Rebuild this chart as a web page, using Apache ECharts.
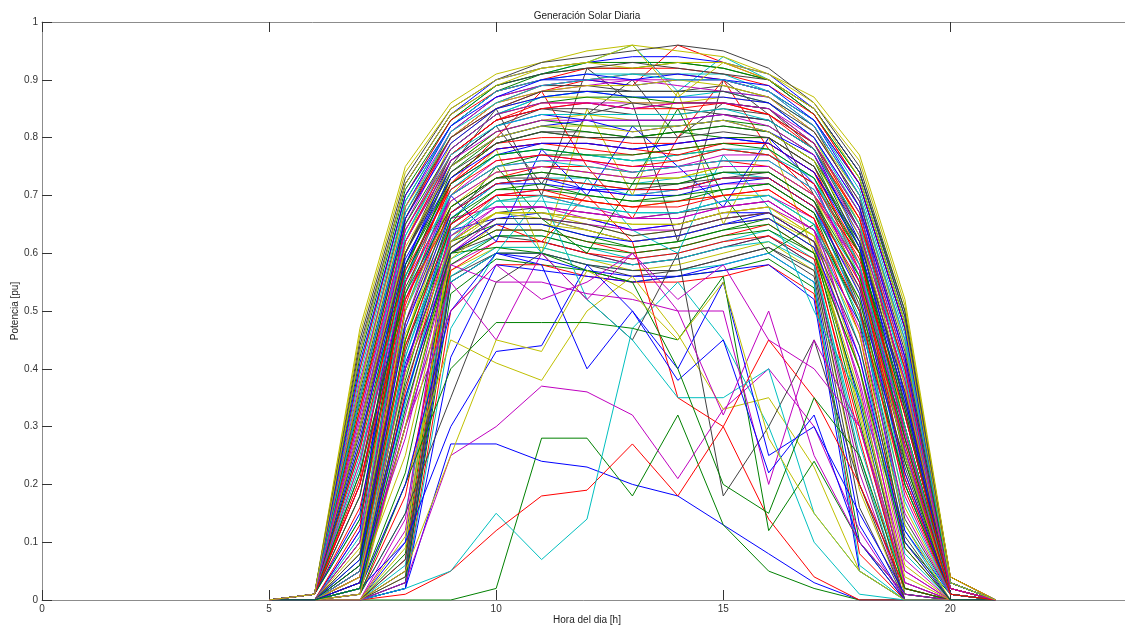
<!DOCTYPE html>
<html>
<head>
<meta charset="utf-8">
<title>Generación Solar Diaria</title>
<script src="https://cdn.jsdelivr.net/npm/echarts@6/dist/echarts.min.js"></script>
<style>
  html, body { margin: 0; padding: 0; background: #fff; }
  #chart { width: 1125px; height: 628px; }
</style>
</head>
<body>
<div id="chart"></div>
<script>
// horas del dia con valores (fuera de este rango la potencia es 0)
var hours = [5, 6, 7, 8, 9, 10, 11, 12, 13, 14, 15, 16, 17, 18, 19, 20, 21];

// dias largos (verano), arrancan a las 6
var diasLargos = [
  [0,0.01,0.47,0.75,0.86,0.91,0.93,0.95,0.96,0.95,0.94,0.91,0.87,0.77,0.52,0.04,0],
  [0,0.01,0.45,0.73,0.85,0.90,0.93,0.94,0.95,0.96,0.95,0.92,0.86,0.75,0.50,0.04,0],
  [0,0.01,0.43,0.72,0.84,0.90,0.92,0.93,0.94,0.94,0.93,0.91,0.85,0.74,0.49,0.03,0],
  [0,0.01,0.42,0.71,0.83,0.89,0.91,0.93,0.93,0.93,0.92,0.90,0.84,0.73,0.48,0.03,0],
  [0,0.01,0.40,0.70,0.83,0.88,0.90,0.92,0.92,0.92,0.91,0.89,0.84,0.72,0.47,0.04,0],
  [0,0.01,0.39,0.69,0.82,0.88,0.90,0.91,0.91,0.91,0.91,0.88,0.83,0.71,0.46,0.03,0],
  [0,0.01,0.38,0.68,0.81,0.87,0.89,0.90,0.90,0.90,0.90,0.88,0.82,0.70,0.45,0.03,0],
  [0,0.01,0.37,0.68,0.80,0.86,0.88,0.89,0.89,0.90,0.89,0.87,0.81,0.70,0.44,0.02,0],
  [0,0.01,0.36,0.67,0.80,0.85,0.88,0.88,0.88,0.88,0.88,0.86,0.81,0.69,0.43,0.03,0],
  [0,0.01,0.35,0.66,0.79,0.85,0.87,0.88,0.87,0.87,0.87,0.86,0.80,0.68,0.42,0.02,0],
  [0,0.01,0.34,0.65,0.78,0.84,0.86,0.87,0.87,0.86,0.86,0.85,0.79,0.67,0.41,0.03,0],
  [0,0.01,0.33,0.64,0.77,0.83,0.85,0.86,0.85,0.85,0.86,0.84,0.78,0.66,0.40,0.02,0],
  [0,0.01,0.32,0.63,0.77,0.82,0.84,0.84,0.84,0.84,0.85,0.83,0.78,0.65,0.39,0.02,0],
  [0,0.01,0.31,0.62,0.76,0.81,0.83,0.83,0.83,0.83,0.84,0.82,0.77,0.64,0.38,0.02,0],
  [0,0.01,0.30,0.61,0.75,0.80,0.82,0.82,0.81,0.82,0.83,0.81,0.76,0.63,0.37,0.02,0],
  [0,0.01,0.29,0.60,0.74,0.79,0.81,0.80,0.80,0.80,0.81,0.80,0.75,0.62,0.36,0.02,0],
  [0,0.01,0.28,0.59,0.73,0.78,0.79,0.79,0.78,0.79,0.80,0.79,0.74,0.61,0.35,0.01,0],
  [0,0.01,0.27,0.58,0.72,0.77,0.78,0.77,0.77,0.78,0.79,0.78,0.73,0.60,0.33,0.01,0],
  [0,0.01,0.26,0.57,0.71,0.76,0.77,0.76,0.75,0.76,0.78,0.77,0.72,0.59,0.32,0.02,0],
  [0,0.01,0.25,0.56,0.70,0.75,0.76,0.75,0.74,0.75,0.76,0.76,0.71,0.58,0.30,0.01,0],
  [0,0.01,0.24,0.55,0.69,0.74,0.75,0.74,0.73,0.74,0.75,0.75,0.70,0.57,0.29,0.01,0],
  [0,0.01,0.46,0.74,0.85,0.90,0.92,0.93,0.92,0.93,0.93,0.91,0.86,0.76,0.51,0.04,0],
  [0,0.01,0.44,0.72,0.84,0.89,0.91,0.92,0.93,0.92,0.91,0.90,0.85,0.74,0.49,0.03,0],
  [0,0.01,0.41,0.70,0.82,0.87,0.90,0.91,0.90,0.91,0.90,0.89,0.83,0.72,0.47,0.03,0],
  [0,0.01,0.22,0.53,0.68,0.73,0.74,0.73,0.72,0.72,0.74,0.74,0.69,0.56,0.28,0.01,0],
  [0,0.01,0.20,0.52,0.67,0.72,0.73,0.72,0.71,0.71,0.73,0.73,0.68,0.55,0.27,0.01,0],
  [0,0.01,0.35,0.67,0.81,0.86,0.89,0.90,0.91,0.90,0.90,0.88,0.82,0.70,0.45,0.03,0],
  [0,0.01,0.32,0.64,0.78,0.84,0.86,0.86,0.85,0.86,0.86,0.85,0.79,0.67,0.41,0.02,0],
  [0,0.01,0.43,0.72,0.84,0.89,0.92,0.93,0.96,0.87,0.93,0.90,0.85,0.73,0.48,0.03,0]
];

// dias de primavera
var diasPrimavera = [
  [0,0.01,0.18,0.60,0.76,0.82,0.85,0.84,0.86,0.85,0.84,0.83,0.78,0.64,0.34,0.02,0],
  [0,0.01,0.15,0.58,0.75,0.80,0.82,0.83,0.81,0.82,0.83,0.81,0.77,0.63,0.32,0.02,0],
  [0,0.01,0.14,0.56,0.73,0.79,0.81,0.80,0.80,0.81,0.80,0.80,0.75,0.61,0.30,0.02,0],
  [0,0,0.13,0.55,0.72,0.78,0.79,0.79,0.78,0.77,0.79,0.79,0.74,0.60,0.29,0.02,0],
  [0,0,0.11,0.53,0.71,0.77,0.78,0.77,0.76,0.76,0.78,0.77,0.73,0.58,0.27,0.01,0],
  [0,0,0.10,0.52,0.70,0.75,0.76,0.76,0.74,0.75,0.76,0.76,0.71,0.57,0.26,0.01,0],
  [0,0,0.09,0.50,0.69,0.74,0.75,0.74,0.73,0.73,0.75,0.75,0.70,0.56,0.25,0.01,0],
  [0,0,0.08,0.48,0.68,0.73,0.74,0.73,0.72,0.72,0.74,0.74,0.69,0.54,0.23,0.01,0],
  [0,0,0.07,0.47,0.67,0.72,0.73,0.71,0.71,0.71,0.73,0.73,0.68,0.53,0.22,0.01,0],
  [0,0,0.06,0.45,0.66,0.71,0.72,0.70,0.69,0.70,0.71,0.72,0.67,0.52,0.20,0.01,0],
  [0,0,0.05,0.44,0.65,0.70,0.71,0.69,0.68,0.69,0.70,0.71,0.66,0.50,0.19,0.01,0],
  [0,0,0.05,0.42,0.64,0.69,0.70,0.68,0.67,0.67,0.69,0.70,0.65,0.49,0.17,0.01,0],
  [0,0,0.04,0.40,0.63,0.68,0.68,0.67,0.66,0.66,0.68,0.69,0.64,0.47,0.15,0.01,0],
  [0,0,0.04,0.39,0.62,0.67,0.67,0.66,0.65,0.65,0.67,0.68,0.63,0.46,0.13,0,0],
  [0,0,0.03,0.37,0.61,0.66,0.66,0.65,0.63,0.64,0.66,0.67,0.62,0.44,0.11,0,0],
  [0,0,0.03,0.35,0.60,0.65,0.65,0.63,0.62,0.63,0.65,0.66,0.61,0.42,0.10,0,0],
  [0,0,0.02,0.33,0.60,0.64,0.64,0.62,0.61,0.62,0.64,0.65,0.60,0.40,0.09,0,0],
  [0,0.01,0.21,0.62,0.77,0.83,0.86,0.86,0.85,0.86,0.86,0.84,0.79,0.66,0.37,0.02,0],
  [0,0.01,0.23,0.63,0.78,0.84,0.87,0.88,0.87,0.87,0.88,0.86,0.80,0.67,0.39,0.03,0],
  [0,0.01,0.26,0.65,0.80,0.86,0.88,0.89,0.90,0.89,0.88,0.87,0.81,0.69,0.42,0.03,0]
];

// dias medios, arrancan a las 7
var diasMedios = [
  [0,0,0.08,0.62,0.79,0.85,0.87,0.87,0.86,0.86,0.87,0.86,0.80,0.65,0.30,0.02,0],
  [0,0,0.06,0.60,0.77,0.83,0.85,0.85,0.84,0.84,0.85,0.84,0.79,0.64,0.28,0.02,0],
  [0,0,0.05,0.58,0.76,0.82,0.84,0.83,0.83,0.83,0.84,0.83,0.78,0.62,0.26,0.01,0],
  [0,0,0.04,0.55,0.74,0.80,0.82,0.81,0.80,0.81,0.82,0.81,0.76,0.60,0.24,0.01,0],
  [0,0,0.04,0.53,0.73,0.79,0.80,0.80,0.79,0.79,0.80,0.80,0.75,0.58,0.22,0.01,0],
  [0,0,0.03,0.50,0.71,0.77,0.78,0.77,0.76,0.77,0.78,0.78,0.73,0.56,0.20,0.01,0],
  [0,0,0.03,0.48,0.70,0.76,0.77,0.76,0.75,0.75,0.77,0.77,0.72,0.55,0.18,0.01,0],
  [0,0,0.02,0.45,0.68,0.74,0.75,0.74,0.73,0.73,0.75,0.75,0.70,0.53,0.16,0.01,0],
  [0,0,0.02,0.43,0.67,0.73,0.73,0.72,0.71,0.72,0.73,0.74,0.69,0.51,0.14,0.01,0],
  [0,0,0.02,0.40,0.66,0.72,0.72,0.71,0.70,0.70,0.72,0.73,0.68,0.50,0.12,0.01,0],
  [0,0,0.01,0.38,0.65,0.71,0.71,0.70,0.69,0.69,0.71,0.72,0.67,0.48,0.10,0.01,0],
  [0,0,0.01,0.36,0.64,0.70,0.70,0.69,0.68,0.68,0.70,0.71,0.66,0.46,0.09,0,0],
  [0,0,0.01,0.34,0.63,0.69,0.69,0.68,0.67,0.67,0.69,0.70,0.65,0.44,0.08,0,0],
  [0,0,0.01,0.32,0.62,0.68,0.68,0.67,0.66,0.66,0.68,0.69,0.64,0.42,0.07,0,0],
  [0,0,0.01,0.30,0.61,0.67,0.67,0.66,0.65,0.65,0.67,0.68,0.63,0.40,0.06,0,0],
  [0,0,0.10,0.66,0.81,0.87,0.89,0.89,0.88,0.88,0.89,0.87,0.82,0.68,0.33,0.02,0],
  [0,0,0.12,0.68,0.82,0.88,0.90,0.90,0.89,0.90,0.90,0.88,0.83,0.70,0.35,0.03,0],
  [0,0,0.07,0.57,0.75,0.81,0.83,0.82,0.82,0.82,0.83,0.82,0.77,0.61,0.25,0.01,0],
  [0,0,0.03,0.51,0.72,0.78,0.79,0.78,0.77,0.78,0.79,0.79,0.74,0.57,0.21,0.01,0],
  [0,0,0.02,0.42,0.66,0.72,0.73,0.72,0.70,0.71,0.73,0.73,0.68,0.50,0.13,0.01,0],
  [0,0,0.05,0.28,0.60,0.66,0.66,0.65,0.64,0.64,0.66,0.67,0.62,0.38,0.05,0,0],
  [0,0,0.04,0.25,0.59,0.65,0.65,0.64,0.62,0.63,0.65,0.66,0.61,0.36,0.04,0,0]
];

// dias de otoño
var diasOtono = [
  [0,0.01,0.37,0.69,0.82,0.88,0.91,0.92,0.92,0.93,0.92,0.90,0.85,0.74,0.50,0.04,0],
  [0,0.01,0.33,0.66,0.80,0.86,0.89,0.90,0.91,0.91,0.90,0.88,0.83,0.72,0.47,0.03,0],
  [0,0.01,0.30,0.64,0.78,0.84,0.87,0.88,0.88,0.88,0.88,0.87,0.82,0.70,0.44,0.03,0],
  [0,0.01,0.27,0.62,0.77,0.83,0.85,0.86,0.86,0.86,0.86,0.85,0.80,0.68,0.42,0.03,0],
  [0,0.01,0.24,0.60,0.75,0.81,0.83,0.84,0.83,0.83,0.84,0.83,0.78,0.66,0.40,0.02,0],
  [0,0.01,0.22,0.58,0.73,0.79,0.81,0.81,0.80,0.81,0.82,0.81,0.76,0.64,0.38,0.02,0],
  [0,0.01,0.20,0.56,0.72,0.77,0.79,0.79,0.78,0.79,0.80,0.79,0.74,0.62,0.36,0.02,0],
  [0,0.01,0.18,0.54,0.70,0.75,0.77,0.77,0.76,0.77,0.78,0.77,0.72,0.60,0.34,0.02,0],
  [0,0.01,0.16,0.52,0.68,0.73,0.75,0.75,0.74,0.75,0.76,0.75,0.70,0.58,0.32,0.02,0],
  [0,0.01,0.14,0.50,0.67,0.72,0.73,0.73,0.72,0.73,0.74,0.73,0.68,0.56,0.30,0.01,0],
  [0,0,0.12,0.48,0.65,0.70,0.71,0.71,0.70,0.71,0.72,0.72,0.67,0.54,0.28,0.01,0],
  [0,0,0.10,0.46,0.64,0.69,0.70,0.69,0.68,0.69,0.70,0.70,0.65,0.52,0.26,0.01,0],
  [0,0,0.08,0.44,0.62,0.67,0.68,0.67,0.66,0.67,0.68,0.69,0.64,0.50,0.24,0.01,0],
  [0,0,0.06,0.41,0.61,0.66,0.67,0.66,0.64,0.65,0.67,0.67,0.62,0.48,0.21,0.01,0],
  [0,0,0.02,0.22,0.58,0.63,0.63,0.61,0.60,0.61,0.63,0.64,0.60,0.35,0.03,0,0],
  [0,0,0.01,0.18,0.57,0.62,0.62,0.60,0.59,0.60,0.62,0.63,0.59,0.30,0.02,0,0],
  [0,0,0.01,0.15,0.56,0.61,0.61,0.59,0.58,0.59,0.61,0.62,0.58,0.27,0.02,0,0],
  [0,0,0,0.14,0.65,0.70,0.70,0.68,0.66,0.67,0.69,0.70,0.66,0.40,0.03,0,0],
  [0,0,0,0.11,0.62,0.67,0.66,0.64,0.62,0.63,0.65,0.66,0.62,0.33,0.02,0,0],
  [0,0,0,0.07,0.55,0.60,0.60,0.58,0.57,0.57,0.59,0.61,0.57,0.20,0,0,0]
];

// dias cortos (invierno), arrancan a las 8
var diasCortos = [
  [0,0,0,0.10,0.64,0.66,0.66,0.64,0.62,0.63,0.65,0.67,0.62,0.34,0.01,0,0],
  [0,0,0,0.08,0.62,0.65,0.65,0.63,0.61,0.62,0.64,0.66,0.61,0.31,0.01,0,0],
  [0,0,0,0.07,0.60,0.64,0.64,0.62,0.60,0.61,0.63,0.65,0.60,0.28,0,0,0],
  [0,0,0,0.06,0.59,0.63,0.63,0.61,0.59,0.60,0.62,0.64,0.59,0.25,0,0,0],
  [0,0,0,0.05,0.58,0.62,0.62,0.60,0.58,0.59,0.61,0.63,0.58,0.22,0,0,0],
  [0,0,0,0.04,0.57,0.61,0.61,0.59,0.57,0.58,0.60,0.62,0.57,0.19,0,0,0],
  [0,0,0,0.04,0.56,0.60,0.60,0.58,0.56,0.57,0.59,0.61,0.56,0.16,0,0,0],
  [0,0,0,0.03,0.55,0.60,0.59,0.57,0.56,0.56,0.58,0.60,0.55,0.13,0,0,0],
  [0,0,0,0.03,0.53,0.59,0.58,0.57,0.55,0.56,0.57,0.59,0.54,0.10,0,0,0],
  [0,0,0,0.02,0.50,0.58,0.58,0.56,0.55,0.55,0.56,0.58,0.53,0.08,0,0,0],
  [0,0,0,0.02,0.47,0.60,0.60,0.58,0.57,0.57,0.58,0.60,0.55,0.06,0,0,0],
  [0,0,0,0.12,0.66,0.68,0.68,0.66,0.64,0.65,0.67,0.68,0.64,0.37,0.02,0,0],
  [0,0,0,0.09,0.63,0.67,0.67,0.65,0.63,0.64,0.66,0.67,0.63,0.32,0.01,0,0],
  [0,0,0,0.05,0.60,0.63,0.62,0.60,0.58,0.59,0.61,0.63,0.58,0.24,0,0,0],
  [0,0,0,0.02,0.42,0.58,0.57,0.56,0.55,0.56,0.57,0.58,0.52,0.05,0,0,0]
];

// dias nublados
var diasNublados = [
  [0,0,0,0.02,0.27,0.27,0.24,0.23,0.20,0.18,0.13,0.08,0.03,0,0,0,0],
  [0,0,0,0,0,0.02,0.28,0.28,0.18,0.32,0.13,0.05,0.02,0,0,0,0],
  [0,0,0,0.01,0.05,0.12,0.18,0.19,0.27,0.18,0.30,0.14,0.04,0,0,0,0],
  [0,0,0,0.02,0.05,0.15,0.07,0.14,0.47,0.55,0.45,0.30,0.10,0.01,0,0,0],
  [0,0,0,0.03,0.25,0.30,0.37,0.36,0.32,0.21,0.33,0.40,0.30,0.12,0,0,0],
  [0,0,0.02,0.20,0.45,0.41,0.38,0.50,0.56,0.46,0.33,0.35,0.23,0.05,0,0,0],
  [0,0,0.01,0.15,0.35,0.55,0.60,0.52,0.45,0.60,0.18,0.30,0.45,0.20,0.02,0,0],
  [0,0,0.02,0.10,0.30,0.43,0.44,0.58,0.50,0.40,0.55,0.25,0.30,0.15,0.01,0,0],
  [0,0,0.01,0.20,0.40,0.48,0.48,0.48,0.47,0.45,0.56,0.12,0.24,0.10,0.01,0,0],
  [0,0,0.05,0.35,0.60,0.65,0.62,0.70,0.62,0.35,0.30,0.45,0.35,0.20,0.02,0,0],
  [0,0,0.02,0.30,0.55,0.60,0.70,0.52,0.45,0.35,0.35,0.40,0.15,0.05,0,0,0],
  [0,0,0.03,0.40,0.58,0.55,0.55,0.53,0.52,0.50,0.50,0.20,0.45,0.30,0.03,0,0],
  [0,0,0.04,0.45,0.70,0.78,0.60,0.85,0.70,0.88,0.65,0.80,0.60,0.40,0.10,0,0],
  [0,0.01,0.30,0.60,0.75,0.85,0.70,0.92,0.86,0.62,0.90,0.84,0.70,0.50,0.30,0.02,0],
  [0,0,0.02,0.20,0.50,0.60,0.58,0.40,0.50,0.38,0.45,0.22,0.32,0.10,0,0,0],
  [0,0,0.03,0.30,0.60,0.61,0.60,0.57,0.55,0.40,0.20,0.15,0.35,0.25,0.02,0,0],
  [0,0.01,0.35,0.66,0.80,0.85,0.88,0.90,0.89,0.96,0.93,0.90,0.84,0.72,0.47,0.03,0],
  [0,0.01,0.40,0.70,0.83,0.89,0.91,0.93,0.96,0.88,0.94,0.90,0.84,0.73,0.48,0.03,0],
  [0,0,0.02,0.30,0.55,0.45,0.60,0.52,0.60,0.50,0.32,0.50,0.25,0.10,0.01,0,0],
  [0,0,0,0.05,0.25,0.45,0.43,0.57,0.53,0.45,0.55,0.28,0.15,0.05,0,0,0],
  [0,0.01,0.30,0.62,0.76,0.82,0.72,0.84,0.90,0.80,0.86,0.85,0.78,0.65,0.40,0.02,0],
  [0,0,0.05,0.50,0.70,0.62,0.78,0.70,0.82,0.75,0.68,0.80,0.72,0.55,0.25,0.01,0],
  [0,0,0.03,0.40,0.65,0.75,0.66,0.60,0.72,0.85,0.70,0.60,0.65,0.50,0.20,0.01,0],
  [0,0.01,0.20,0.55,0.72,0.80,0.88,0.75,0.66,0.80,0.90,0.78,0.70,0.60,0.30,0.02,0],
  [0,0,0.02,0.35,0.62,0.70,0.60,0.73,0.64,0.60,0.77,0.68,0.50,0.35,0.12,0,0],
  [0,0,0.02,0.30,0.50,0.58,0.52,0.55,0.60,0.52,0.58,0.45,0.40,0.30,0.05,0,0]
];

// colores por defecto de matlab
var colores = ['#0000ff', '#008000', '#ff0000', '#00bfbf', '#bf00bf', '#bfbf00', '#404040'];

var dias = diasCortos.concat(diasOtono, diasNublados, diasMedios, diasPrimavera, diasLargos);

var series = [];
for (var d = 0; d < dias.length; d++) {
    var pts = [];
    for (var i = 0; i < hours.length; i++) {
        pts.push([hours[i], dias[d][i]]);
    }
    series.push({
        type: 'line',
        data: pts,
        xAxisIndex: 0,
        yAxisIndex: 0,
        symbol: 'none',
        silent: true,
        lineStyle: { width: 1, color: colores[d % colores.length] }
    });
}

var ejeColor = '#8c8c8c';
var fuente = 'Liberation Sans, Arial, sans-serif';

var chart = echarts.init(document.getElementById('chart'), null, { renderer: 'canvas' });
chart.setOption({
    animation: false,
    backgroundColor: '#fff',
    title: {
        text: 'Generación Solar Diaria',
        left: 582,
        top: 6,
        textAlign: 'center',
        textStyle: { fontSize: 10, fontWeight: 'normal', color: '#222', fontFamily: fuente }
    },
    grid: { left: 42, top: 22, width: 1090, height: 578, containLabel: false, outerBoundsMode: 'none' },
    xAxis: [{
        type: 'value',
        min: 0, max: 24, interval: 5,
        name: 'Hora del dia [h]',
        nameLocation: 'middle',
        nameGap: 15,
        nameMoveOverlap: false,
        nameTextStyle: { fontSize: 10, color: '#222', fontFamily: fuente },
        axisLine: { lineStyle: { color: ejeColor, width: 1 } },
        axisTick: { inside: true, length: 10, lineStyle: { color: '#333' } },
        axisLabel: { margin: 4, fontSize: 10, color: '#333', fontFamily: fuente },
        splitLine: { show: false }
    }, {
        type: 'value',
        position: 'top',
        min: 0, max: 24, interval: 5,
        axisLine: { lineStyle: { color: ejeColor, width: 1 } },
        axisTick: { inside: true, length: 10, lineStyle: { color: '#333' } },
        axisLabel: { show: false },
        splitLine: { show: false }
    }],
    yAxis: {
        type: 'value',
        min: 0, max: 1, interval: 0.1,
        name: 'Potencia [pu]',
        nameLocation: 'middle',
        nameGap: 22,
        nameMoveOverlap: false,
        nameTextStyle: { fontSize: 10, color: '#222', fontFamily: fuente },
        axisLine: { show: true, lineStyle: { color: ejeColor, width: 1 } },
        axisTick: { show: true, inside: true, length: 10, lineStyle: { color: '#333' } },
        axisLabel: {
            margin: 4, fontSize: 10, color: '#333', fontFamily: fuente,
            formatter: function (v) { return String(+v.toFixed(1)); }
        },
        splitLine: { show: false }
    },
    series: series
});
</script>
</body>
</html>
